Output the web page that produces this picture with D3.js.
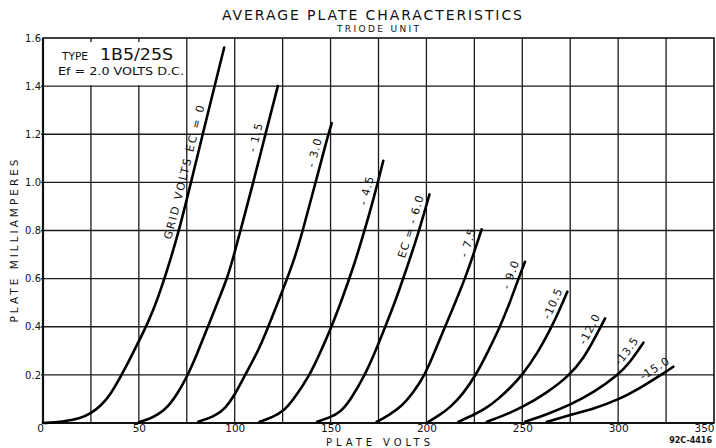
<!DOCTYPE html>
<html><head><meta charset="utf-8">
<script src="https://cdn.jsdelivr.net/npm/d3@7/dist/d3.min.js"></script>
<style>
body{margin:0;background:#fff}
svg{display:block}
text{font-family:"DejaVu Sans",sans-serif;fill:#111}
</style>
</head><body>
<svg id="chart" width="716" height="448"></svg>
<script>
// ---- data (plate volts, plate milliamperes) ----
const gridVoltages = [0, -1.5, -3.0, -4.5, -6.0, -7.5, -9.0, -10.5, -12.0, -13.5, -15.0];
const curveLabels = ["GRID VOLTS EC = 0", "- 1.5", "- 3.0", "- 4.5", "EC = - 6.0", "- 7.5", "- 9.0", "-10.5", "-12.0", "-13.5", "-15.0"];
const ec0   = [[0,0],[10,0.004],[20,0.02],[25,0.04],[30,0.07],[35,0.115],[41,0.2],[45,0.26],[50,0.34],[55,0.42],[60,0.52],[65,0.64],[71,0.8],[77.2,1.0],[83.3,1.2],[89.5,1.4],[94.5,1.56]];
const ec15  = [[50,0.003],[55,0.015],[60,0.035],[65,0.065],[70,0.12],[75,0.19],[80,0.28],[86,0.4],[91.5,0.51],[96,0.6],[99,0.68],[103,0.8],[109.7,1.0],[116,1.2],[122.5,1.4]];
const ec30  = [[81,0.005],[90,0.03],[95,0.06],[100,0.116],[105.4,0.2],[112,0.295],[117,0.39],[123,0.51],[131,0.675],[135.5,0.8],[142.2,1.0],[148.8,1.2],[150.6,1.246]];
const ec45  = [[113,0.005],[120,0.025],[125,0.047],[130,0.09],[139.3,0.2],[145,0.3],[150,0.39],[155.8,0.51],[162,0.65],[167,0.78],[172.3,0.927],[177.5,1.09]];
const ec60  = [[143,0.005],[150,0.024],[155,0.045],[160,0.09],[168,0.2],[173.5,0.3],[178,0.39],[184,0.51],[190,0.65],[195.5,0.78],[201.6,0.95]];
const ec75  = [[174,0.005],[180,0.03],[187.5,0.072],[193,0.125],[199.3,0.2],[204.5,0.3],[209.7,0.4],[215,0.5],[220.1,0.6],[224.5,0.7],[228.8,0.805]];
const ec90  = [[201,0.005],[206,0.028],[212.5,0.065],[219,0.12],[225.9,0.2],[232,0.295],[238.4,0.4],[243.5,0.5],[248,0.6],[251.4,0.67]];
const ec105 = [[216.7,0.005],[225,0.035],[231,0.06],[237.5,0.1],[244,0.148],[250,0.2],[258,0.29],[265.4,0.4],[270,0.48],[273.5,0.546]];
const ec120 = [[231.5,0.005],[240,0.03],[250,0.065],[262.5,0.123],[275,0.2],[282,0.27],[287,0.34],[293.2,0.435]];
const ec135 = [[251.5,0.005],[262.5,0.035],[275,0.075],[287.5,0.128],[300,0.2],[306,0.25],[313.2,0.334]];
const ec150 = [[262.8,0.005],[275,0.033],[287.5,0.06],[300,0.096],[312.5,0.15],[325,0.213],[328.8,0.234]];
const xTickValues = [0, 50, 100, 150, 200, 250, 300, 350];
const xTickLabels = ["0", "50", "100", "150", "200", "250", "300", "350"];
const yTickValues = [0.2, 0.4, 0.6, 0.8, 1.0, 1.2, 1.4, 1.6];
const yTickLabels = ["0.2", "0.4", "0.6", "0.8", "1.0", "1.2", "1.4", "1.6"];

const curves = [ec0, ec15, ec30, ec45, ec60, ec75, ec90, ec105, ec120, ec135, ec150];
// label gap from the curve end, in px (layout)
const labelGap = [60, 40, 18, 18, 3, 2, 2, 0, 0, 0, 0];

const svg = d3.select("#chart");
const x = d3.scaleLinear().domain([0, 350]).range([43, 714]);
const y = d3.scaleLinear().domain([0, 1.6]).range([423, 38]);

// grid
const g = svg.append("g");
g.selectAll("line.v").data(d3.range(25, 350, 25)).join("line")
  .attr("x1", d => x(d)).attr("x2", d => x(d)).attr("y1", y(0)).attr("y2", y(1.6))
  .attr("stroke", "#1a1a1a").attr("stroke-width", 1.3);
g.selectAll("line.h").data(yTickValues.slice(0, -1)).join("line")
  .attr("x1", x(0) - 2).attr("x2", x(350)).attr("y1", d => y(d)).attr("y2", d => y(d))
  .attr("stroke", "#1a1a1a").attr("stroke-width", 1.3);

// type box
svg.append("rect").attr("x", x(0) + 1).attr("y", y(1.6) + 4)
  .attr("width", x(75) - x(0) - 2).attr("height", y(1.4) - y(1.6) - 5).attr("fill", "#fff");
svg.append("text").attr("x", 62).attr("y", 60).attr("font-size", 11)
  .attr("textLength", 26).attr("lengthAdjust", "spacingAndGlyphs").text("TYPE");
svg.append("text").attr("x", 100).attr("y", 60).attr("font-size", 15)
  .attr("textLength", 73).attr("lengthAdjust", "spacingAndGlyphs").text("1B5/25S");
svg.append("text").attr("x", 58).attr("y", 75).attr("font-size", 11)
  .attr("textLength", 126).attr("lengthAdjust", "spacingAndGlyphs").text("Ef = 2.0 VOLTS D.C.");

// frame
svg.append("rect").attr("x", x(0)).attr("y", y(1.6)).attr("width", x(350) - x(0)).attr("height", y(0) - y(1.6))
  .attr("fill", "none").attr("stroke", "#111").attr("stroke-width", 1.6);
svg.append("line").attr("x1", x(0)).attr("x2", x(0)).attr("y1", y(0)).attr("y2", y(1.6)).attr("stroke", "#111").attr("stroke-width", 2.2);
svg.append("line").attr("x1", x(0)).attr("x2", x(350)).attr("y1", y(0)).attr("y2", y(0)).attr("stroke", "#111").attr("stroke-width", 2.2);

// axes
const xAxis = svg.append("g").attr("transform", `translate(0,${y(0)})`)
  .call(d3.axisBottom(x).tickValues(xTickValues).tickFormat((d, i) => xTickLabels[i]).tickSize(0).tickPadding(2));
xAxis.select(".domain").remove();
xAxis.selectAll("text").attr("font-family", "DejaVu Sans").attr("font-size", 10.5).attr("fill", "#111")
  .attr("text-anchor", (d, i) => i === xTickValues.length - 1 ? "end" : "middle")
  .attr("dx", (d, i) => i === 0 ? -3 : 0);
const yAxis = svg.append("g").attr("transform", `translate(${x(0)},0)`)
  .call(d3.axisLeft(y).tickValues(yTickValues).tickFormat((d, i) => yTickLabels[i]).tickSize(0).tickPadding(2));
yAxis.select(".domain").remove();
yAxis.selectAll("text").attr("font-family", "DejaVu Sans").attr("font-size", 10).attr("fill", "#111");

// curves
const line = d3.line().x(d => x(d[0])).y(d => y(d[1])).curve(d3.curveBasis);
const cg = svg.append("g");
curves.forEach((c, i) => {
  const p = cg.append("path").attr("id", "c" + i).attr("d", line(c))
    .attr("fill", "none").attr("stroke", "#000").attr("stroke-width", 2.6).attr("stroke-linecap", "round");
  const L = p.node().getTotalLength();
  cg.append("text").attr("font-size", 11).attr("dy", -5).attr("letter-spacing", i === 0 ? 1.9 : 1)
    .append("textPath").attr("href", "#c" + i).attr("startOffset", L - labelGap[i]).attr("text-anchor", "end")
    .text(curveLabels[i]);
});

// titles
svg.append("text").attr("x", 372).attr("y", 20).attr("text-anchor", "middle").attr("font-size", 14)
  .attr("textLength", 300).attr("lengthAdjust", "spacing").text("AVERAGE PLATE CHARACTERISTICS");
svg.append("text").attr("x", 378).attr("y", 32).attr("text-anchor", "middle").attr("font-size", 9)
  .attr("textLength", 82).attr("lengthAdjust", "spacing").text("TRIODE UNIT");
svg.append("text").attr("x", 378).attr("y", 446).attr("text-anchor", "middle").attr("font-size", 10)
  .attr("textLength", 104).attr("lengthAdjust", "spacing").text("PLATE  VOLTS");
svg.append("text").attr("transform", "translate(18,241) rotate(-90)").attr("text-anchor", "middle").attr("font-size", 10.5)
  .attr("textLength", 163).attr("lengthAdjust", "spacing").text("PLATE  MILLIAMPERES");
svg.append("text").attr("x", 712).attr("y", 443).attr("text-anchor", "end").attr("font-size", 8)
  .attr("font-weight", "bold").text("92C-4416");
</script>
</body></html>
